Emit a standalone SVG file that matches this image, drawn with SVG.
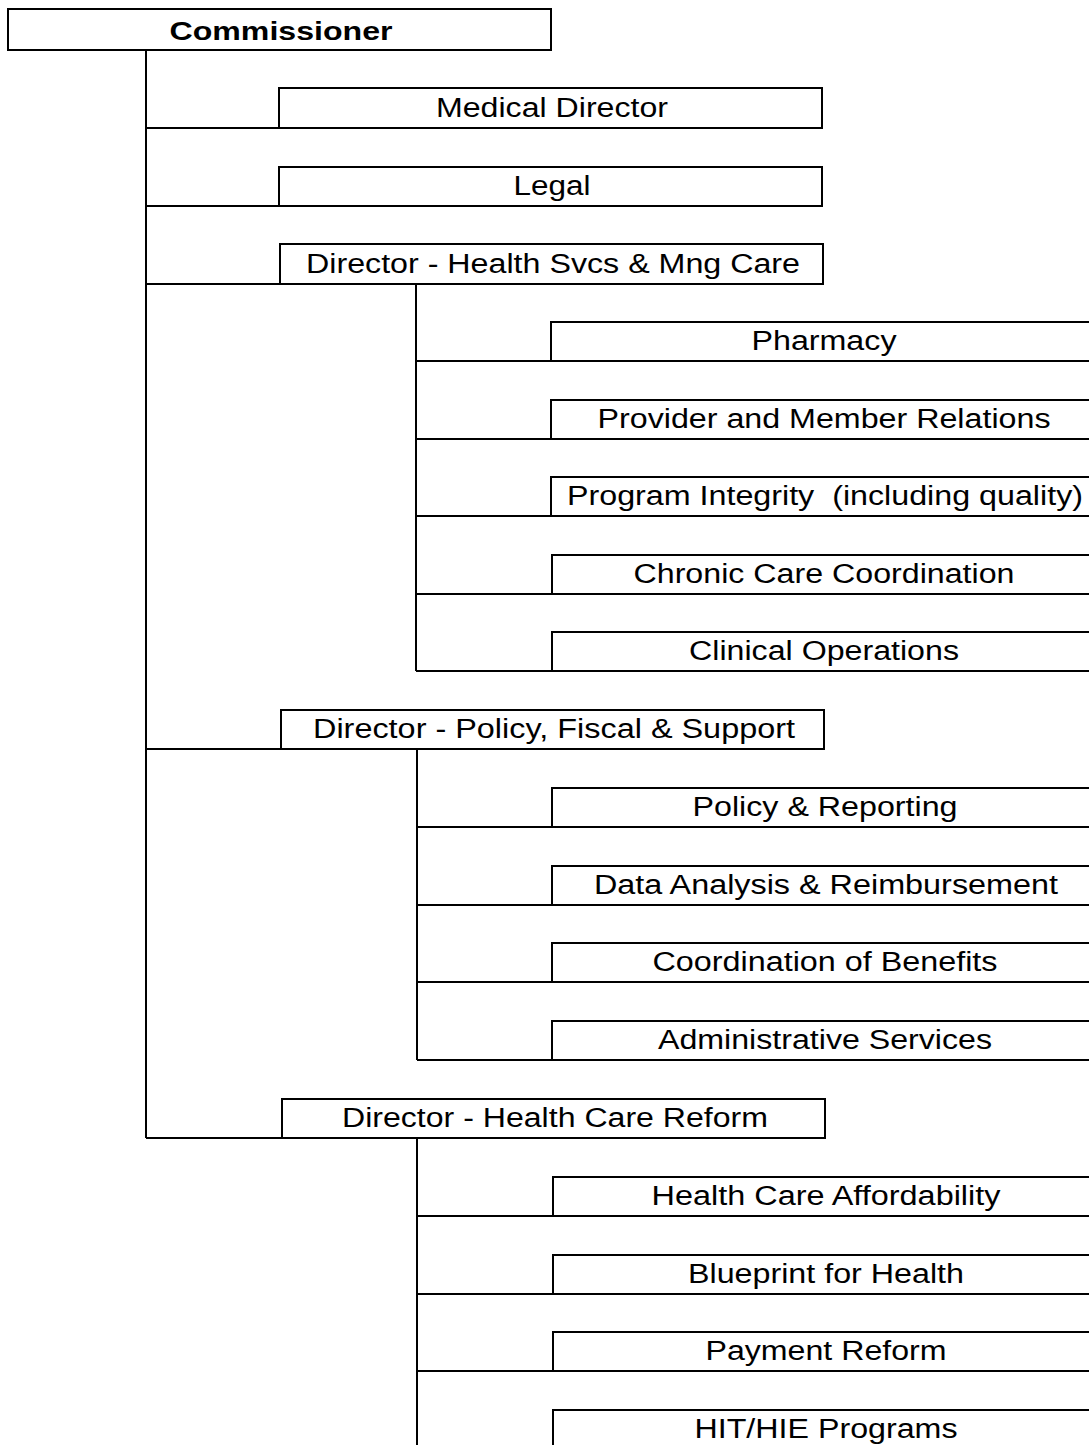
<svg xmlns="http://www.w3.org/2000/svg" width="1089" height="1445" viewBox="0 0 1089 1445">
<style>
.b{fill:#fff;stroke:#000;stroke-width:2}
.c{fill:none;stroke:#000;stroke-width:2}
text{font-family:"Liberation Sans",Arial,sans-serif;font-size:27px;fill:#000;text-anchor:middle}
.bold{font-weight:bold;font-size:26px}
</style>
<rect width="1089" height="1445" fill="#fff"/>
<g id="connectors">
<path class="c" d="M146,50 V1138 M146,128 H279 M146,206 H279 M146,284 H280 M146,749 H281 M146,1138 H282"/>
<path class="c" d="M416,284 V671 M416,361 H551 M416,439 H551 M416,516 H551 M416,594 H551 M416,671 H552"/>
<path class="c" d="M417,749 V1060 M417,827 H552 M417,905 H552 M417,982 H552 M417,1060 H552"/>
<path class="c" d="M417,1138 V1445 M417,1216 H553 M417,1294 H553 M417,1371 H553"/>
</g>
<g id="commissioner"><rect class="b" x="8" y="9" width="543" height="41"/><text class="bold" x="281" y="40" textLength="223" lengthAdjust="spacingAndGlyphs">Commissioner</text></g>
<g id="medical-director"><rect class="b" x="279" y="88" width="543" height="40"/><text x="552" y="117" textLength="232" lengthAdjust="spacingAndGlyphs">Medical Director</text></g>
<g id="legal"><rect class="b" x="279" y="167" width="543" height="39"/><text x="552" y="195" textLength="77" lengthAdjust="spacingAndGlyphs">Legal</text></g>
<g id="dir-health-svcs"><rect class="b" x="280" y="244" width="543" height="40"/><text x="553" y="273" textLength="494" lengthAdjust="spacingAndGlyphs">Director - Health Svcs &amp; Mng Care</text></g>
<g id="pharmacy"><rect class="b" x="551" y="322" width="543" height="39"/><text x="824" y="350" textLength="145" lengthAdjust="spacingAndGlyphs">Pharmacy</text></g>
<g id="provider-member"><rect class="b" x="551" y="400" width="543" height="39"/><text x="824" y="428" textLength="453" lengthAdjust="spacingAndGlyphs">Provider and Member Relations</text></g>
<g id="program-integrity"><rect class="b" x="551" y="477" width="543" height="39"/><text x="825" y="505" textLength="516" lengthAdjust="spacingAndGlyphs" xml:space="preserve">Program Integrity  (including quality)</text></g>
<g id="chronic-care"><rect class="b" x="552" y="555" width="543" height="39"/><text x="824" y="583" textLength="381" lengthAdjust="spacingAndGlyphs">Chronic Care Coordination</text></g>
<g id="clinical-ops"><rect class="b" x="552" y="632" width="543" height="39"/><text x="824" y="660" textLength="270" lengthAdjust="spacingAndGlyphs">Clinical Operations</text></g>
<g id="dir-policy"><rect class="b" x="281" y="710" width="543" height="39"/><text x="554" y="738" textLength="482" lengthAdjust="spacingAndGlyphs">Director - Policy, Fiscal &amp; Support</text></g>
<g id="policy-reporting"><rect class="b" x="552" y="788" width="543" height="39"/><text x="825" y="816" textLength="265" lengthAdjust="spacingAndGlyphs">Policy &amp; Reporting</text></g>
<g id="data-analysis"><rect class="b" x="552" y="866" width="543" height="39"/><text x="826" y="894" textLength="464" lengthAdjust="spacingAndGlyphs">Data Analysis &amp; Reimbursement</text></g>
<g id="coordination-benefits"><rect class="b" x="552" y="943" width="543" height="39"/><text x="825" y="971" textLength="345" lengthAdjust="spacingAndGlyphs">Coordination of Benefits</text></g>
<g id="admin-services"><rect class="b" x="552" y="1021" width="543" height="39"/><text x="825" y="1049" textLength="334" lengthAdjust="spacingAndGlyphs">Administrative Services</text></g>
<g id="dir-hcr"><rect class="b" x="282" y="1099" width="543" height="39"/><text x="555" y="1127" textLength="426" lengthAdjust="spacingAndGlyphs">Director - Health Care Reform</text></g>
<g id="hc-affordability"><rect class="b" x="553" y="1177" width="543" height="39"/><text x="826" y="1205" textLength="349" lengthAdjust="spacingAndGlyphs">Health Care Affordability</text></g>
<g id="blueprint"><rect class="b" x="553" y="1255" width="543" height="39"/><text x="826" y="1283" textLength="276" lengthAdjust="spacingAndGlyphs">Blueprint for Health</text></g>
<g id="payment-reform"><rect class="b" x="553" y="1332" width="543" height="39"/><text x="826" y="1360" textLength="241" lengthAdjust="spacingAndGlyphs">Payment Reform</text></g>
<g id="hit-hie"><rect class="b" x="553" y="1410" width="543" height="39"/><text x="826" y="1438" textLength="263" lengthAdjust="spacingAndGlyphs">HIT/HIE Programs</text></g>
</svg>
